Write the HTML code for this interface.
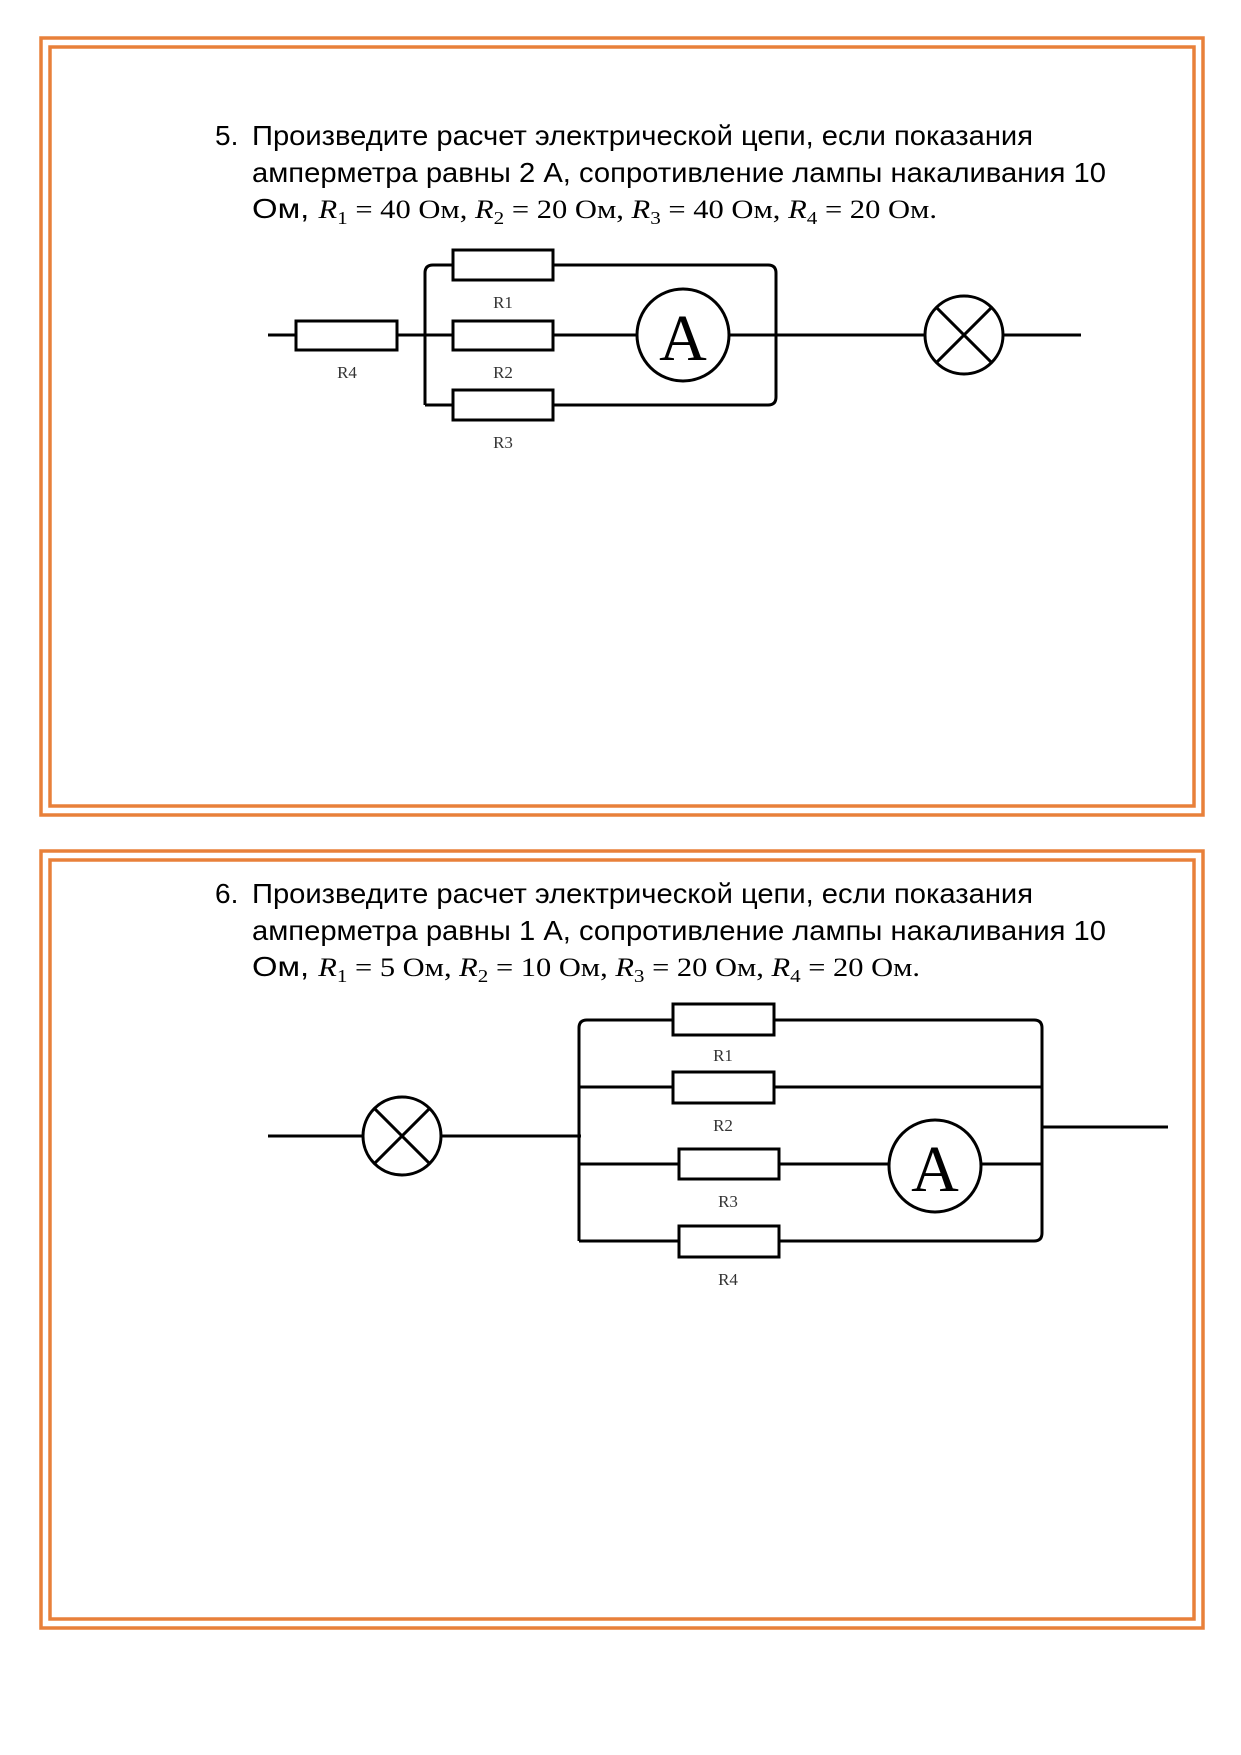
<!DOCTYPE html>
<html><head><meta charset="utf-8"><style>
html,body{margin:0;padding:0;background:#fff}
svg{display:block}
.t{font-family:"Liberation Sans",sans-serif;font-size:28px;fill:#000}
.m{font-family:"Liberation Serif",serif;font-size:26px}
.l{font-family:"Liberation Serif",serif;font-size:17px;fill:#333;text-anchor:middle}
.w{stroke:#000;stroke-width:3;fill:none}
.r{stroke:#000;stroke-width:3;fill:#fff}
</style></head><body>
<svg width="1241" height="1755" viewBox="0 0 1241 1755">
<g fill="none" stroke="#e8803a" stroke-width="3.5">
<rect x="41" y="38" width="1162" height="777"/>
<rect x="50" y="47" width="1144" height="759"/>
<rect x="41" y="851" width="1162" height="777"/>
<rect x="50" y="860" width="1144" height="759"/>
</g>
<text class="t" x="215" y="145">5.</text>
<text class="t" x="252" y="145" textLength="781" lengthAdjust="spacingAndGlyphs">Произведите расчет электрической цепи, если показания</text>
<text class="t" x="252" y="182" textLength="854" lengthAdjust="spacingAndGlyphs">амперметра равны 2 А, сопротивление лампы накаливания 10</text>
<text class="t" x="252" y="218" textLength="685" lengthAdjust="spacingAndGlyphs">Ом, <tspan class="m"><tspan font-style="italic">R</tspan><tspan font-size="18" dy="6">1</tspan><tspan dy="-6"> = 40 Ом, </tspan><tspan font-style="italic">R</tspan><tspan font-size="18" dy="6">2</tspan><tspan dy="-6"> = 20 Ом, </tspan><tspan font-style="italic">R</tspan><tspan font-size="18" dy="6">3</tspan><tspan dy="-6"> = 40 Ом, </tspan><tspan font-style="italic">R</tspan><tspan font-size="18" dy="6">4</tspan><tspan dy="-6"> = 20 Ом.</tspan></tspan></text>

<text class="t" x="215" y="903">6.</text>
<text class="t" x="252" y="903" textLength="781" lengthAdjust="spacingAndGlyphs">Произведите расчет электрической цепи, если показания</text>
<text class="t" x="252" y="940" textLength="854" lengthAdjust="spacingAndGlyphs">амперметра равны 1 А, сопротивление лампы накаливания 10</text>
<text class="t" x="252" y="976" textLength="668" lengthAdjust="spacingAndGlyphs">Ом, <tspan class="m"><tspan font-style="italic">R</tspan><tspan font-size="18" dy="6">1</tspan><tspan dy="-6"> = 5 Ом, </tspan><tspan font-style="italic">R</tspan><tspan font-size="18" dy="6">2</tspan><tspan dy="-6"> = 10 Ом, </tspan><tspan font-style="italic">R</tspan><tspan font-size="18" dy="6">3</tspan><tspan dy="-6"> = 20 Ом, </tspan><tspan font-style="italic">R</tspan><tspan font-size="18" dy="6">4</tspan><tspan dy="-6"> = 20 Ом.</tspan></tspan></text>

<!-- circuit 1 -->
<path class="w" d="M268 335H637 M729 335H925 M1003 335H1081"/>
<path class="w" d="M425 405V273q0-8 8-8H768q8 0 8 8V397q0 8-8 8H425"/>
<rect class="r" x="296" y="321" width="101" height="29"/>
<rect class="r" x="453" y="250" width="100" height="30"/>
<rect class="r" x="453" y="321" width="100" height="29"/>
<rect class="r" x="453" y="390" width="100" height="30"/>
<circle class="r" cx="683" cy="335" r="46" stroke-width="2"/>
<text x="683" y="360" text-anchor="middle" font-family="Liberation Serif,serif" font-size="66">A</text>
<circle class="r" cx="964" cy="335" r="39"/>
<path class="w" d="M936.4 307.4L991.6 362.6M991.6 307.4L936.4 362.6"/>
<text class="l" x="347" y="378">R4</text>
<text class="l" x="503" y="308">R1</text>
<text class="l" x="503" y="378">R2</text>
<text class="l" x="503" y="448">R3</text>

<!-- circuit 2 -->
<path class="w" d="M268 1136H581 M1042 1127H1168"/>
<path class="w" d="M579 1241V1028q0-8 8-8H1034q8 0 8 8V1233q0 8-8 8H579"/>
<path class="w" d="M579 1087H1042 M579 1164H1042"/>
<rect class="r" x="673" y="1004" width="101" height="31"/>
<rect class="r" x="673" y="1072" width="101" height="31"/>
<rect class="r" x="679" y="1149" width="100" height="30"/>
<rect class="r" x="679" y="1226" width="100" height="31"/>
<circle class="r" cx="935" cy="1166" r="46" stroke-width="2"/>
<text x="935" y="1191" text-anchor="middle" font-family="Liberation Serif,serif" font-size="66">A</text>
<circle class="r" cx="402" cy="1136" r="39"/>
<path class="w" d="M374.4 1108.4L429.6 1163.6M429.6 1108.4L374.4 1163.6"/>
<text class="l" x="723" y="1061">R1</text>
<text class="l" x="723" y="1131">R2</text>
<text class="l" x="728" y="1207">R3</text>
<text class="l" x="728" y="1285">R4</text>
</svg>
</body></html>
